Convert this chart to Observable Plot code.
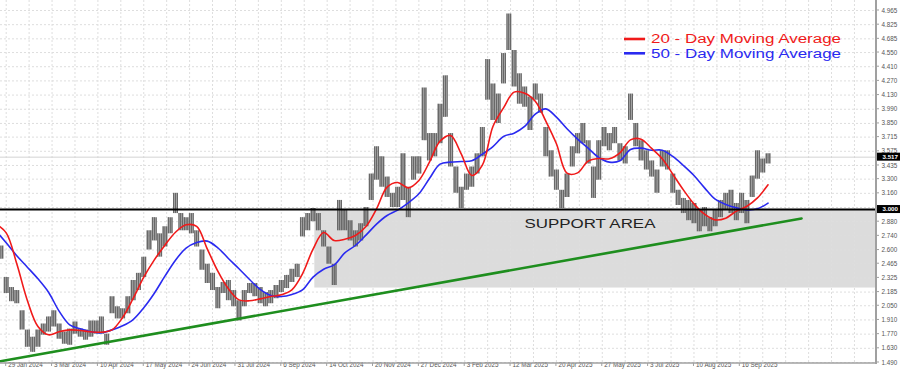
<!DOCTYPE html>
<html>
<head>
<meta charset="utf-8">
<script src="https://cdn.jsdelivr.net/npm/d3@7"></script>
<script src="https://cdn.jsdelivr.net/npm/@observablehq/plot@0.6"></script>
<style>
  html, body { margin: 0; padding: 0; background: #fff; }
  #chart svg { display: block; }
</style>
</head>
<body>
<div id="chart"></div>
<script>
// ---------- DATA ----------
// x axis date labels (one every 26 bars)
const dateLabels = ["29 Jan 2024","3 Mar 2024","10 Apr 2024","17 May 2024","24 Jun 2024","31 Jul 2024",
  "6 Sep 2024","14 Oct 2024","20 Nov 2024","27 Dec 2024","3 Feb 2025","12 Mar 2025","20 Apr 2025",
  "27 May 2025","3 Jul 2025","10 Aug 2025","16 Sep 2025"];
const barsPerLabel = 26;

// y axis tick labels
const yTickLabels = ["4.965","4.825","4.685","4.550","4.410","4.270","4.130","3.990","3.850","3.715",
  "3.575","3.435","3.300","3.160","3.020","2.880","2.740","2.600","2.465","2.325","2.185","2.050",
  "1.910","1.770","1.630","1.490"];

// price range samples (each covers 3 bars, starting at bar -3)
const priceStartBar = -3, priceStepBars = 3;
const priceHigh = [
  2.64,2.33,2.23,2.20,2.00,1.81,1.74,1.81,1.87,1.94,
  2.00,1.87,1.79,1.82,1.89,1.82,1.81,1.90,1.90,1.94,
  1.77,2.14,2.04,2.02,2.14,2.30,2.37,2.53,2.79,2.92,
  2.76,2.83,2.92,3.16,2.96,2.92,2.96,2.79,2.60,2.46,
  2.37,2.23,2.28,2.30,2.20,2.10,2.20,2.27,2.27,2.23,
  2.18,2.20,2.25,2.30,2.35,2.41,2.46,2.92,2.96,3.01,
  2.96,2.79,2.63,2.46,3.09,2.99,2.89,2.79,2.86,3.02,
  3.35,3.62,3.52,3.32,3.16,3.22,3.55,3.22,3.52,3.52,
  4.20,3.75,3.75,4.04,4.32,3.75,3.42,3.22,3.35,3.42,
  3.55,3.81,4.48,4.24,4.14,4.54,4.93,4.57,4.34,4.21,
  4.11,4.24,4.14,3.81,3.58,3.39,3.19,3.35,3.62,3.75,
  3.85,3.68,3.42,3.68,3.81,3.75,3.81,3.65,3.62,4.14,
  3.85,3.68,3.58,3.48,3.39,3.58,3.58,3.35,3.19,3.11,
  3.09,3.06,2.99,3.02,2.92,2.99,3.09,3.16,3.19,3.06,
  3.16,3.09,3.33,3.58,3.50,3.55
];
const priceLow = [
  2.51,2.17,2.09,2.07,1.81,1.64,1.59,1.64,1.76,1.79,
  1.84,1.72,1.67,1.66,1.77,1.74,1.71,1.74,1.77,1.77,
  1.66,1.97,1.92,1.92,1.97,2.10,2.20,2.33,2.60,2.69,
  2.53,2.63,2.76,2.96,2.79,2.79,2.76,2.63,2.40,2.27,
  2.20,2.02,2.17,2.10,2.04,1.90,2.04,2.17,2.14,2.07,
  2.04,2.07,2.12,2.18,2.22,2.28,2.33,2.73,2.79,2.88,
  2.79,2.63,2.46,2.25,2.79,2.79,2.69,2.63,2.69,2.83,
  3.09,3.29,3.22,3.12,3.02,3.02,3.09,2.92,3.29,3.35,
  3.68,3.48,3.52,3.65,3.91,3.42,3.16,3.01,3.19,3.22,
  3.35,3.52,4.08,3.88,3.85,4.24,4.57,4.21,4.04,4.01,
  3.78,4.08,3.95,3.52,3.32,3.19,3.01,3.12,3.42,3.55,
  3.65,3.45,3.11,3.29,3.62,3.58,3.65,3.48,3.45,3.88,
  3.62,3.48,3.39,3.32,3.16,3.42,3.39,3.16,3.04,2.96,
  2.89,2.86,2.78,2.83,2.78,2.83,2.92,2.99,2.96,2.89,
  2.96,2.86,3.12,3.30,3.36,3.45
];

// moving averages (every 6 bars, starting at bar -6)
const maStartBar = -6, maStepBars = 6;
const ma20 = [
  2.859,2.770,2.464,2.102,1.845,1.763,1.793,1.812,1.806,1.793,
  1.789,1.812,1.934,2.122,2.332,2.503,2.648,2.776,2.849,2.833,
  2.612,2.391,2.217,2.108,2.099,2.118,2.141,2.158,2.207,2.365,
  2.609,2.773,2.694,2.707,2.744,2.833,3.007,3.221,3.267,3.214,
  3.287,3.468,3.675,3.731,3.550,3.336,3.438,3.820,4.004,4.159,
  4.149,4.070,3.872,3.649,3.359,3.362,3.478,3.504,3.501,3.560,
  3.688,3.695,3.603,3.501,3.349,3.194,3.056,2.954,2.898,2.915,
  2.984,3.033,3.115,3.244
];
const ma50 = [
  2.793,2.671,2.543,2.431,2.316,2.184,1.997,1.862,1.822,1.793,
  1.783,1.812,1.852,1.914,2.030,2.174,2.342,2.500,2.619,2.675,
  2.688,2.622,2.517,2.415,2.309,2.211,2.151,2.141,2.161,2.207,
  2.332,2.411,2.454,2.572,2.645,2.747,2.856,2.941,2.994,3.066,
  3.155,3.306,3.448,3.468,3.474,3.481,3.547,3.622,3.721,3.754,
  3.820,3.941,3.994,3.912,3.797,3.695,3.606,3.514,3.468,3.481,
  3.593,3.606,3.586,3.586,3.524,3.435,3.336,3.214,3.102,3.050,
  3.017,2.997,3.007,3.063
];

const lastPrice = 3.517;
const supportLevel = 3.000;
const supportZone = [{startBar: 175, low: 2.225, high: 3.000}];
const trendline = [{bar: -3.2, price: 1.503}, {bar: 451, price: 2.912}];
const supportLabel = [{bar: 331, price: 2.862, text: "SUPPORT AREA"}];
const legendItems = [
  {text: "20 - Day Moving Average", color: "#f01a1a"},
  {text: "50 - Day Moving Average", color: "#2a2af0"}
];

// ---------- BUILD ----------
const xDomain = [-3.23, 493.5];
const yDomain = [1.480, 5.0637];

// each sample spans priceStepBars daily bars; draw one thin bar per day with the sampled range
const priceBars = priceHigh.flatMap((h, i) =>
  d3.range(priceStepBars).map(k => ({
    bar: priceStartBar + i * priceStepBars + k - (priceStepBars - 1) / 2,
    high: h, low: priceLow[i]
  })));
const ma20Data = ma20.map((v, i) => ({bar: maStartBar + i * maStepBars, v}));
const ma50Data = ma50.map((v, i) => ({bar: maStartBar + i * maStepBars, v}));
const dateTicks = dateLabels.map((label, i) => ({bar: i * barsPerLabel, label}));
const gridBars = d3.range(0, xDomain[1], barsPerLabel / 2);
const yTicks = yTickLabels.map(label => ({v: +label, label}));
const zone = supportZone.map(d => ({...d, endBar: xDomain[1]}));

const axesMark = (index, scales, values, dimensions) => {
  const {width, height, marginRight, marginBottom} = dimensions;
  const xr = width - marginRight, yb = height - marginBottom;
  const g = d3.create("svg:g");
  // y tick marks
  for (const t of yTicks) {
    const y = scales.y(t.v);
    g.append("line").attr("x1", xr).attr("x2", xr + 3).attr("y1", y).attr("y2", y)
      .attr("stroke", "#888").attr("stroke-width", 0.8);
  }
  // x tick marks
  for (const t of dateTicks) {
    const x = scales.x(t.bar);
    g.append("line").attr("x1", x).attr("x2", x).attr("y1", yb).attr("y2", yb + 3)
      .attr("stroke", "#888").attr("stroke-width", 0.8);
  }
  // axis lines
  g.append("line").attr("x1", xr).attr("x2", xr).attr("y1", 0).attr("y2", yb + 1)
    .attr("stroke", "#a0a0a0").attr("stroke-width", 2);
  g.append("line").attr("x1", 0).attr("x2", xr).attr("y1", yb).attr("y2", yb)
    .attr("stroke", "#a0a0a0").attr("stroke-width", 1.5);
  // price tags
  for (const v of [lastPrice, supportLevel]) {
    const y = scales.y(v);
    g.append("rect").attr("x", xr + 1).attr("y", y - 4).attr("width", width - xr - 1).attr("height", 8)
      .attr("fill", "#000");
    g.append("text").attr("x", width - 2).attr("y", y).attr("dy", "0.35em")
      .attr("text-anchor", "end")
      .attr("fill", "#fff").attr("font-size", 6.2).attr("font-weight", "bold").text(v.toFixed(3));
  }
  // legend
  legendItems.forEach((d, i) => {
    const y = 39 + i * 14.3;
    g.append("line").attr("x1", xr - 252).attr("x2", xr - 231).attr("y1", y).attr("y2", y)
      .attr("stroke", d.color).attr("stroke-width", 2.6);
    g.append("text").attr("x", xr - 225).attr("y", y).attr("dy", "0.36em")
      .attr("text-anchor", "start")
      .attr("fill", d.color).attr("font-size", 12)
      .attr("textLength", 190).attr("lengthAdjust", "spacingAndGlyphs")
      .text(d.text);
  });
  return g.node();
};

const chart = Plot.plot({
  width: 900,
  height: 369,
  marginLeft: 0,
  marginRight: 24,
  marginTop: 0,
  marginBottom: 6,
  x: {domain: xDomain, axis: null},
  y: {domain: yDomain, axis: null},
  style: {fontFamily: "'Liberation Sans', Arial, sans-serif", background: "#fff", overflow: "visible"},
  marks: [
    Plot.rect(zone, {x1: "startBar", x2: "endBar", y1: "low", y2: "high", fill: "#dcdcdc"}),
    Plot.ruleX(gridBars, {stroke: "#dedede", strokeDasharray: "2,2", strokeWidth: 1}),
    Plot.ruleY(yTicks, {y: "v", stroke: "#dedede", strokeDasharray: "2,2", strokeWidth: 1}),
    Plot.ruleY([lastPrice], {stroke: "#d4d4d4", strokeWidth: 1}),
    Plot.ruleX(priceBars, {x: "bar", y1: "low", y2: "high", stroke: "#686868", strokeWidth: 1.5, clip: true}),
    Plot.line(trendline, {x: "bar", y: "price", stroke: "#1e8e1e", strokeWidth: 2.6, clip: true}),
    Plot.line(ma50Data, {x: "bar", y: "v", stroke: "#2a2af0", strokeWidth: 1.6, curve: "catmull-rom", clip: true}),
    Plot.line(ma20Data, {x: "bar", y: "v", stroke: "#f01a1a", strokeWidth: 1.6, curve: "catmull-rom", clip: true}),
    Plot.ruleY([supportLevel], {stroke: "#000", strokeWidth: 2}),
    Plot.text(supportLabel, {x: "bar", y: "price", text: "text", fontSize: 12.5, fill: "#222", textAnchor: "middle"}),
    Plot.text(yTicks.filter(t => t.label !== "3.020"), {y: "v", text: "label", frameAnchor: "right", dx: 5,
      textAnchor: "start", fontSize: 6.3, fill: "#555"}),
    Plot.text(dateTicks, {x: "bar", text: "label", frameAnchor: "bottom", dy: 3.5, dx: 2,
      textAnchor: "start", fontSize: 6.3, fill: "#555"}),
    axesMark
  ]
});

// stretch the annotation text to the reference's width
d3.select(chart).selectAll("text").each(function() {
  if (this.textContent === "SUPPORT AREA") {
    d3.select(this).attr("textLength", 131).attr("lengthAdjust", "spacingAndGlyphs");
  }
});

document.getElementById("chart").appendChild(chart);
</script>
</body>
</html>
